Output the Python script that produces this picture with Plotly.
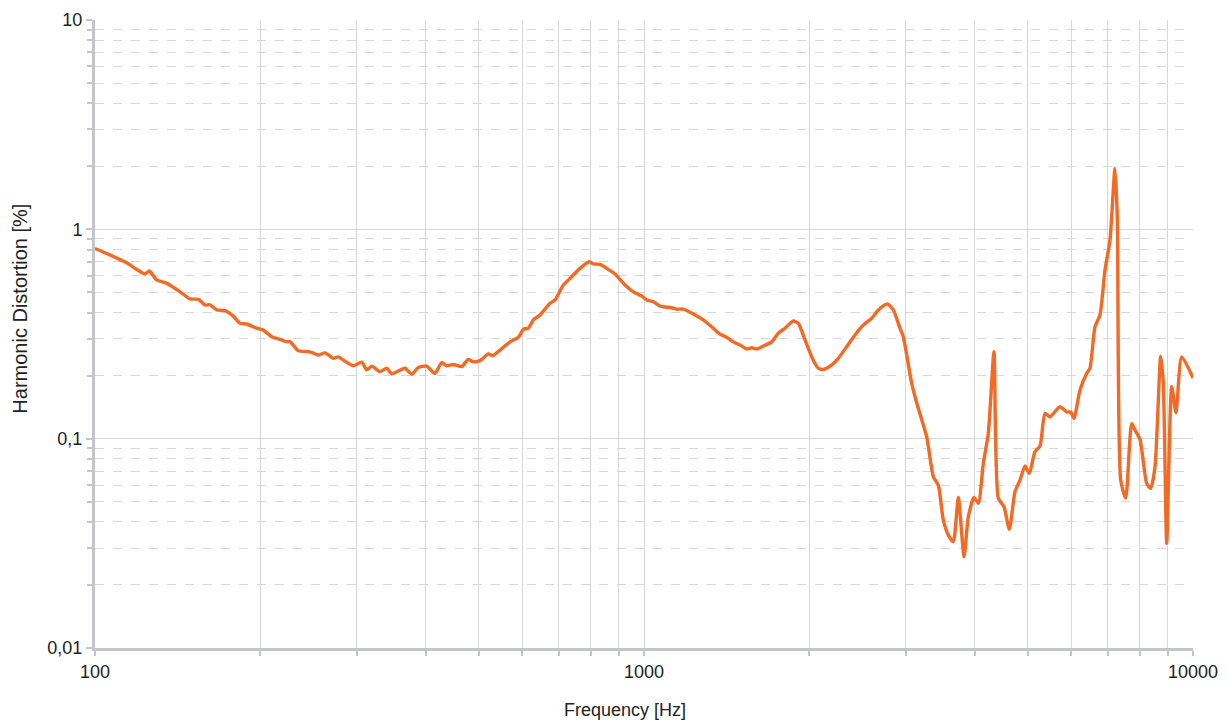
import plotly.graph_objects as go

freq_hz = [100, 106.5, 114.2, 118.3, 123.3, 125.6, 129.5, 135.1, 142.9, 148.9,
           154.3, 158.6, 162.0, 166.6, 172.5, 178.6, 183.7, 188.9, 197.0, 202.6,
           209.8, 217.3, 223.5, 226.6, 234.6, 246.4, 255.1, 262.4, 271.8, 277.5,
           283.4, 295.3, 306.1, 312.6, 319.2, 330.4, 340.0, 347.1, 367.0, 377.5,
           388.0, 401.9, 416.1, 428.0, 437.1, 449.4, 465.5, 478.6, 488.8, 502.9,
           520.6, 530.3, 546.8, 570.2, 590.4, 602.9, 615.7, 628.7, 646.6, 674.3,
           688.6, 712.9, 733.2, 764.6, 795.1, 808.6, 831.6, 855.1, 885.6, 923.5,
           956.1, 990.4, 1011, 1040, 1069, 1123, 1147, 1179, 1230, 1282,
           1337, 1375, 1414, 1454, 1496, 1539, 1571, 1605, 1650, 1709,
           1756, 1806, 1870, 1910, 1965, 2034, 2077, 2121, 2198, 2259,
           2340, 2423, 2509, 2599, 2673, 2775, 2845, 2926, 2967, 3073,
           3139, 3273, 3365, 3436, 3509, 3584, 3659, 3737, 3828, 3897,
           3991, 4064, 4150, 4238, 4340, 4420, 4526, 4628, 4740, 4840,
           4943, 5033, 5154, 5264, 5376, 5489, 5724, 5888, 5987, 6070,
           6225, 6402, 6491, 6629, 6769, 6914, 7060, 7209, 7279, 7384,
           7541, 7732, 7841, 8007, 8235, 8375, 8527, 8733, 8829, 8956,
           9146, 9311, 9537, 10000]

thd_pct = [0.81, 0.754, 0.692, 0.651, 0.612, 0.632, 0.573, 0.552, 0.503, 0.465,
           0.463, 0.435, 0.436, 0.412, 0.409, 0.385, 0.356, 0.353, 0.337, 0.330,
           0.307, 0.298, 0.290, 0.291, 0.263, 0.260, 0.251, 0.257, 0.242, 0.246,
           0.237, 0.223, 0.232, 0.213, 0.222, 0.209, 0.217, 0.204, 0.217, 0.203,
           0.219, 0.222, 0.205, 0.231, 0.223, 0.226, 0.221, 0.239, 0.233, 0.236,
           0.254, 0.249, 0.265, 0.290, 0.305, 0.333, 0.337, 0.369, 0.390, 0.443,
           0.460, 0.542, 0.583, 0.651, 0.700, 0.683, 0.680, 0.651, 0.612, 0.542,
           0.503, 0.480, 0.460, 0.451, 0.430, 0.422, 0.415, 0.416, 0.394, 0.369,
           0.337, 0.316, 0.305, 0.290, 0.280, 0.268, 0.272, 0.268, 0.277, 0.290,
           0.319, 0.337, 0.365, 0.356, 0.296, 0.237, 0.217, 0.214, 0.225, 0.242,
           0.275, 0.313, 0.349, 0.376, 0.412, 0.440, 0.412, 0.337, 0.307, 0.184,
           0.148, 0.102, 0.0658, 0.060, 0.0408, 0.0346, 0.0322, 0.0524, 0.0273, 0.0423,
           0.0524, 0.0491, 0.0762, 0.106, 0.260, 0.0519, 0.0473, 0.0369, 0.0558, 0.0634,
           0.074, 0.0683, 0.0866, 0.0922, 0.132, 0.127, 0.142, 0.134, 0.134, 0.125,
           0.171, 0.205, 0.217, 0.342, 0.390, 0.639, 0.889, 1.956, 1.149, 0.0634,
           0.0519, 0.118, 0.110, 0.0992, 0.0611, 0.0579, 0.0734, 0.248, 0.184, 0.0316,
           0.177, 0.133, 0.246, 0.195]

y_tick_vals = [0.01, 0.1, 1, 10]
y_tick_text = ["0,01", "0,1", "1", "10"]
x_tick_vals = [100, 1000, 10000]
x_tick_text = ["100", "1000", "10000"]

x_title = "Frequency [Hz]"
y_title = "Harmonic Distortion [%]"

FONT = "Liberation Sans, Arial, sans-serif"
GRID = "#d6d6d6"
AXIS = "#c4c5ca"

fig = go.Figure()
fig.add_trace(go.Scatter(
    x=freq_hz, y=thd_pct, mode="lines",
    line=dict(color="#F26A25", width=3.4, shape="spline", smoothing=0.6),
    showlegend=False, hoverinfo="skip",
))

fig.update_layout(
    width=1229, height=720,
    margin=dict(l=95, r=36, t=20, b=72),
    paper_bgcolor="white", plot_bgcolor="white",
    font=dict(family=FONT, size=18, color="#222222"),
    annotations=[
        dict(text=x_title, xref="paper", yref="paper", x=0.4827, y=-0.0987,
             xanchor="center", yanchor="middle", showarrow=False,
             font=dict(family=FONT, size=18, color="#222222")),
        dict(text=y_title, xref="paper", yref="paper", x=-0.0685, y=0.54,
             xanchor="center", yanchor="middle", showarrow=False, textangle=-90,
             font=dict(family=FONT, size=20, color="#222222")),
    ],
)

fig.update_xaxes(
    type="log", range=[2, 4], automargin=False,
    tickmode="array", tickvals=x_tick_vals, ticktext=x_tick_text,
    showline=True, linecolor=AXIS, linewidth=3,
    showgrid=True, gridcolor=GRID, gridwidth=1,
    ticks="outside", ticklen=5, tickcolor=AXIS, tickwidth=2,
    minor=dict(dtick="D1", showgrid=True, gridcolor=GRID, gridwidth=1,
               ticks="outside", ticklen=5, tickcolor=AXIS, tickwidth=2),
    zeroline=False, tickfont=dict(size=18),
)
fig.update_yaxes(
    type="log", range=[-2, 1], automargin=False,
    tickmode="array", tickvals=y_tick_vals, ticktext=y_tick_text,
    showline=True, linecolor=AXIS, linewidth=3,
    showgrid=True, gridcolor=GRID, gridwidth=1,
    ticks="outside", ticklen=6, tickcolor=AXIS, tickwidth=2,
    minor=dict(dtick="D1", showgrid=True, gridcolor=GRID, gridwidth=1, griddash="dash",
               ticks="outside", ticklen=5, tickcolor=AXIS, tickwidth=2),
    zeroline=False, tickfont=dict(size=18),
)

fig.write_html("out.html", config={"displayModeBar": False},
               post_script="document.body.style.margin='0px';")
